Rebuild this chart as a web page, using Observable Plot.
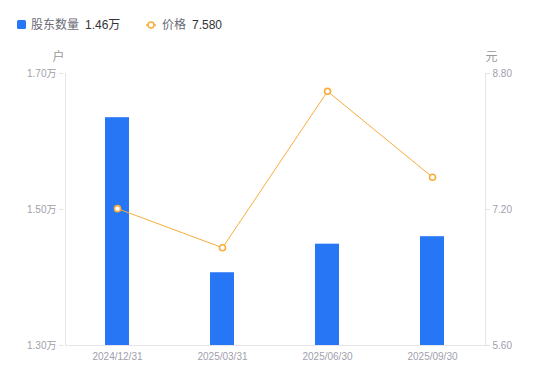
<!DOCTYPE html>
<html>
<head>
<meta charset="utf-8">
<script src="https://cdn.jsdelivr.net/npm/d3@7"></script>
<script src="https://cdn.jsdelivr.net/npm/@observablehq/plot@0.6"></script>
<style>
  html, body { margin: 0; padding: 0; background: #fff; }
  body { width: 550px; height: 381px; overflow: hidden; font-family: "Liberation Sans", "Noto Sans CJK SC", sans-serif; }
  #legend { position: relative; height: 45px; font-size: 12px; }
  #legend span { position: absolute; top: 17px; line-height: 16px; white-space: nowrap; }
  .lab { color: #6b6b76; }
  .val { color: #333; }
</style>
</head>
<body>
<div id="legend"></div>
<div id="chart"></div>
<script>
const dates = ["2024/12/31", "2025/03/31", "2025/06/30", "2025/09/30"];
const holders = [1.635, 1.407, 1.449, 1.460]; // 万户
const prices = [7.21, 6.75, 8.59, 7.58];       // 元
const leftTicks = [1.30, 1.50, 1.70];
const rightTicks = [5.60, 7.20, 8.80];
const seriesNames = ["股东数量", "价格"];
const legendValues = ["1.46万", "7.580"];
const units = ["户", "元"];

const barColor = "#2776f6";
const lineColor = "#f9ad3a";
const axisColor = "#a0a0ab";
const lineGray = "#e4e4ea";

// map price domain onto holders domain (dual axis)
const pMin = 5.6, pMax = 8.8, hMin = 1.3, hMax = 1.7;
const toH = p => hMin + (p - pMin) / (pMax - pMin) * (hMax - hMin);
const toP = h => pMin + (h - hMin) / (hMax - hMin) * (pMax - pMin);

const data = dates.map((d, i) => ({date: d, holders: holders[i], price: prices[i]}));

// legend
const legend = document.getElementById("legend");
legend.innerHTML = `
  <svg style="position:absolute;left:17px;top:20px" width="10" height="10"><rect x="0" y="0" width="9" height="9" rx="1.5" fill="${barColor}"/></svg>
  <span class="lab" style="left:31px">${seriesNames[0]}</span>
  <span class="val" style="left:85px">${legendValues[0]}</span>
  <svg style="position:absolute;left:145px;top:19px" width="12" height="12"><line x1="1" x2="11" y1="6" y2="6" stroke="${lineColor}" stroke-width="1.5"/><circle cx="6" cy="6" r="3" fill="#fff" stroke="${lineColor}" stroke-width="1.5"/></svg>
  <span class="lab" style="left:162px">${seriesNames[1]}</span>
  <span class="val" style="left:192px">${legendValues[1]}</span>
`;

const chart = Plot.plot({
  width: 550,
  height: 336,
  marginLeft: 65,
  marginRight: 65,
  marginTop: 28,
  marginBottom: 36,
  style: {fontFamily: '"Liberation Sans", "Noto Sans CJK SC", sans-serif', fontSize: "10px", background: "#fff"},
  x: {type: "band", domain: dates, paddingInner: 0.77, paddingOuter: 0.385},
  y: {domain: [hMin, hMax]},
  marks: [
    Plot.frame({anchor: "left", stroke: lineGray}),
    Plot.frame({anchor: "right", stroke: lineGray}),
    Plot.frame({anchor: "bottom", stroke: lineGray}),
    Plot.barY(data, {x: "date", y1: hMin, y2: "holders", fill: barColor}),
    Plot.line(data, {x: "date", y: d => toH(d.price), stroke: lineColor, strokeWidth: 1}),
    Plot.dot(data, {x: "date", y: d => toH(d.price), r: 3, fill: "#fff", stroke: lineColor, strokeWidth: 1.6}),
    Plot.axisX({tickSize: 0, tickPadding: 7, label: null, color: axisColor, fontSize: 10}),
    Plot.axisY({anchor: "left", ticks: leftTicks, tickFormat: d => d.toFixed(2) + "万", tickSize: 4, tickPadding: 3, dx: -2, label: null, color: axisColor, stroke: lineGray, fontSize: 10}),
    Plot.axisY({anchor: "right", ticks: leftTicks, tickFormat: d => toP(d).toFixed(2), tickSize: 4, tickPadding: 3, label: null, color: axisColor, stroke: lineGray, fontSize: 10}),
    Plot.text([units[0]], {frameAnchor: "top-left", text: d => d, dx: -1, dy: -21, textAnchor: "end", fill: "#999", fontSize: 12}),
    Plot.text([units[1]], {frameAnchor: "top-right", text: d => d, dx: 0, dy: -21, textAnchor: "start", fill: "#999", fontSize: 12})
  ]
});
document.getElementById("chart").appendChild(chart);
</script>
</body>
</html>
